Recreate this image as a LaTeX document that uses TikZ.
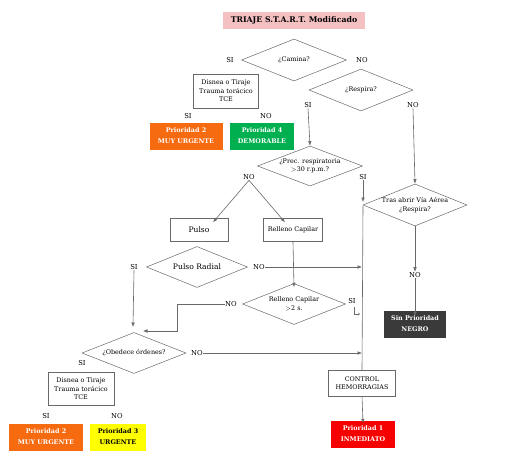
\documentclass[tikz,border=0pt]{standalone}
\usepackage{fontspec}
\setmainfont{DejaVu Serif}
\usetikzlibrary{shapes.geometric,arrows.meta}
\definecolor{lnc}{RGB}{105,105,105}
\definecolor{pinkt}{RGB}{244,192,194}
\definecolor{orng}{RGB}{246,106,16}
\definecolor{grn}{RGB}{0,176,80}
\definecolor{redb}{RGB}{246,0,0}
\definecolor{dgray}{RGB}{58,58,58}
\definecolor{ylw}{RGB}{255,255,0}
\tikzset{
  txt/.style={font=\fontsize{6.4}{8.6}\selectfont, align=center, inner sep=0pt},
  lbl/.style={font=\fontsize{6.8}{8}\selectfont, inner sep=0.5pt},
  dia/.style={diamond, draw=lnc, line width=0.5pt, aspect=2.5, inner sep=0pt, txt},
  wbox/.style={rectangle, draw=lnc, line width=0.5pt, txt},
  cbox/.style={rectangle, draw=none, txt, font=\fontsize{6.4}{11}\selectfont\bfseries, text=white},
  ln/.style={draw=lnc, line width=0.6pt},
  arr/.style={ln, -{Latex[length=4.5pt,width=3.6pt]}},
}
\begin{document}
\begin{tikzpicture}[x=1pt,y=-1pt]
\useasboundingbox[fill=white] (0,0) rectangle (511,475);

% title
\node[rectangle, fill=pinkt, minimum width=142pt, minimum height=17pt, inner sep=0pt,
      font=\fontsize{7.8}{8}\selectfont\bfseries] (title) at (294,20) {TRIAJE S.T.A.R.T. Modificado};

% diamonds
\node[dia, minimum width=105pt, minimum height=42pt] (camina) at (294,60) {¿Camina?};
\node[dia, minimum width=104pt, minimum height=42pt] (respira) at (361,90) {¿Respira?};
\node[dia, minimum width=105pt, minimum height=40pt] (prec) at (310,166) {¿Prec. respiratoria\\ $>$30 r.p.m.?};
\node[dia, minimum width=104pt, minimum height=42pt] (tras) at (415,205) {Tras abrir Vía Aérea\\ ¿Respira?};
\node[dia, minimum width=101pt, minimum height=41pt, font=\fontsize{7.6}{8}\selectfont] (pradial) at (197,267) {Pulso Radial};
\node[dia, minimum width=103pt, minimum height=41pt] (rcap) at (294,304) {Relleno Capilar\\ $>$2 s.};
\node[dia, minimum width=104pt, minimum height=41pt] (obed) at (134,353) {¿Obedece órdenes?};

% white boxes
\node[wbox, minimum width=65pt, minimum height=34pt] (dis1) at (226,91) {Disnea o Tiraje\\ Trauma torácico\\ TCE};
\node[wbox, minimum width=66pt, minimum height=33pt] (dis2) at (81,389) {Disnea o Tiraje\\ Trauma torácico\\ TCE};
\node[wbox, minimum width=58pt, minimum height=23pt, font=\fontsize{7.6}{8}\selectfont] (pulso) at (199,230) {Pulso};
\node[wbox, minimum width=59pt, minimum height=23pt] (relleno) at (293,230) {Relleno Capilar};
\node[wbox, minimum width=67pt, minimum height=26pt] (ctrl) at (362,383) {CONTROL\\ HEMORRAGIAS};

% coloured boxes
\node[cbox, fill=orng, minimum width=73pt, minimum height=27pt] (p2a) at (186,136) {Prioridad 2\\ MUY URGENTE};
\node[cbox, fill=grn, minimum width=64pt, minimum height=27pt] (p4) at (262,136) {Prioridad 4\\ DEMORABLE};
\node[cbox, fill=dgray, minimum width=62pt, minimum height=27pt] (negro) at (415,324) {Sin Prioridad\\ NEGRO};
\node[cbox, fill=orng, minimum width=74pt, minimum height=27pt] (p2b) at (46,437) {Prioridad 2\\ MUY URGENTE};
\node[cbox, fill=ylw, text=black, minimum width=56pt, minimum height=27pt] (p3) at (118,437) {Prioridad 3\\ URGENTE};
\node[cbox, fill=redb, minimum width=64pt, minimum height=27pt] (p1) at (363,434) {Prioridad 1\\ INMEDIATO};

% labels
\node[lbl] (sicam) at (230,60) {SI};
\node[lbl] (nocam) at (362,60) {NO};
\node[lbl] (sid1) at (188,116) {SI};
\node[lbl] (nod1) at (266,116) {NO};
\node[lbl] (sires) at (308,105) {SI};
\node[lbl] (nores) at (413,105) {NO};
\node[lbl] (noprec) at (249,177) {NO};
\node[lbl] (siprec) at (363,177) {SI};
\node[lbl] (notras) at (415,275) {NO};
\node[lbl] (sipr) at (134,267) {SI};
\node[lbl] (nopr) at (259,267) {NO};
\node[lbl] (norc) at (231,304) {NO};
\node[lbl] (sirc) at (352,301) {SI};
\node[lbl] (noob) at (197,353) {NO};
\node[lbl] (siob) at (82,363) {SI};
\node[lbl] (sid2) at (46,416) {SI};
\node[lbl] (nod2) at (117,416) {NO};

% coordinates
\coordinate (vtop) at (363,206);
\coordinate (sitip) at (363,202);
\coordinate (prtip) at (362,267);
\coordinate (obtip) at (362,353);
\coordinate (ontip) at (133,327);
\coordinate (nctip) at (143,331);
\coordinate (ncbend) at (177,304);
\coordinate (hk1) at (354,307);
\coordinate (hk2) at (360,314);

% connectors
\draw[arr] (sires.south) -- (prec.north);
\draw[arr] (nores.south) -- (tras.north);
\draw[arr] (siprec.south) -- (sitip);
\draw[ln] (vtop) -- (ctrl.north);
\draw[arr] (noprec.south) -- ([xshift=14pt,yshift=-4pt]pulso.north);
\draw[arr] (noprec.south) -- ([xshift=-8pt,yshift=-4pt]relleno.north);
\draw[arr] (tras.south) -- (notras.north);
\draw[arr] (notras.south) -- ([yshift=-6pt]negro.north);
\draw[arr] (relleno.south) -- ([yshift=-4pt]rcap.north);
\draw[arr] (nopr.east) -- (prtip);
\draw[arr] (sipr.south) -- (ontip);
\draw[arr] (norc.west) -- (ncbend) |- (nctip);
\draw[arr] (noob.east) -- (obtip);
\draw[ln, -{Straight Barb[length=1.5pt,width=2.5pt]}, line width=0.4pt] (hk1) |- (hk2);
\draw[arr] (ctrl.south) -- ([yshift=-3pt]p1.north);
\end{tikzpicture}
\end{document}
